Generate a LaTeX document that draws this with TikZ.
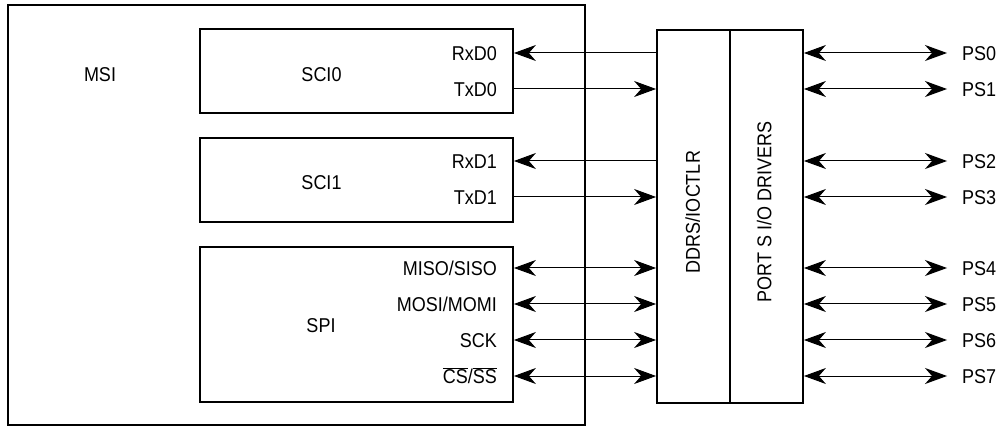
\documentclass[tikz,border=0pt]{standalone}
\usepackage{fontspec}
\setmainfont[FakeStretch=0.9]{Liberation Sans}
\usetikzlibrary{positioning,arrows.meta}
\newcommand{\ovbar}[1]{$\overline{\hbox{#1}}$}
\tikzset{
  >={Stealth[length=22pt,width=16pt,inset=7pt]},
  box/.style={draw=black, line width=1.8pt, inner sep=0pt},
  txt/.style={inner sep=0pt, text height=14.5pt, text depth=0pt, font=\fontsize{20}{24}\selectfont},
  sigl/.style={txt, anchor=east},
  pslbl/.style={txt, anchor=west},
  sig/.style={->, line width=1pt},
  bi/.style={<->, line width=1pt},
}
\begin{document}
\begin{tikzpicture}[x=1pt,y=-1pt]
  \useasboundingbox (0,0) rectangle (998,427);
  % blocks
  \node[box, minimum width=577pt, minimum height=420pt](msi) at (296.5,215){};
  \node[box, minimum width=313pt, minimum height=84pt](sci0) at (356.5,71){};
  \node[box, minimum width=313pt, minimum height=84pt](sci1) at (356.5,180){};
  \node[box, minimum width=313pt, minimum height=155pt](spi) at (356.5,324.5){};
  \node[box, minimum width=73pt, minimum height=373pt](ddrs) at (693.5,216.5){};
  \node[box, minimum width=73pt, minimum height=373pt](portdrv) at (766.5,216.5){};
  % block names
  \node[txt](msitxt) at (100,74){MSI};
  \node[txt](sci0txt) at (321.5,74){SCI0};
  \node[txt](sci1txt) at (321.5,182){SCI1};
  \node[txt](spitxt) at (321,325){SPI};
  \node[txt, rotate=90](ddrstxt) at (692.5,212){DDRS/IOCTLR};
  \node[txt, rotate=90](porttxt) at (764,212){PORT S I/O DRIVERS};
  % pin names
  \node[sigl](rxd0) at (497,53){RxD0};
  \node[sigl](txd0) at (497,89){TxD0};
  \node[sigl](rxd1) at (497,161){RxD1};
  \node[sigl](txd1) at (497,197){TxD1};
  \node[sigl](miso) at (497,268){MISO/SISO};
  \node[sigl](mosi) at (497,304){MOSI/MOMI};
  \node[sigl](sck) at (497,340){SCK};
  \node[sigl](cs) at (497,376){\ovbar{CS}/\ovbar{SS}};
  \node[pslbl](ps0) at (962,53){PS0};
  \node[pslbl](ps1) at (962,89){PS1};
  \node[pslbl](ps2) at (962,161){PS2};
  \node[pslbl](ps3) at (962,197){PS3};
  \node[pslbl](ps4) at (962,268){PS4};
  \node[pslbl](ps5) at (962,304){PS5};
  \node[pslbl](ps6) at (962,340){PS6};
  \node[pslbl](ps7) at (962,376){PS7};
  % connections
  \draw[sig](ddrs.west |- rxd0)--(sci0.east |- rxd0);
  \draw[sig](sci0.east |- txd0)--(ddrs.west |- txd0);
  \draw[sig](ddrs.west |- rxd1)--(sci1.east |- rxd1);
  \draw[sig](sci1.east |- txd1)--(ddrs.west |- txd1);
  \draw[bi](spi.east |- miso)--(ddrs.west |- miso);
  \draw[bi](spi.east |- mosi)--(ddrs.west |- mosi);
  \draw[bi](spi.east |- sck)--(ddrs.west |- sck);
  \draw[bi](spi.east |- cs)--(ddrs.west |- cs);
  \draw[bi, shorten >=15pt](portdrv.east |- ps0)--(ps0.west);
  \draw[bi, shorten >=15pt](portdrv.east |- ps1)--(ps1.west);
  \draw[bi, shorten >=15pt](portdrv.east |- ps2)--(ps2.west);
  \draw[bi, shorten >=15pt](portdrv.east |- ps3)--(ps3.west);
  \draw[bi, shorten >=15pt](portdrv.east |- ps4)--(ps4.west);
  \draw[bi, shorten >=15pt](portdrv.east |- ps5)--(ps5.west);
  \draw[bi, shorten >=15pt](portdrv.east |- ps6)--(ps6.west);
  \draw[bi, shorten >=15pt](portdrv.east |- ps7)--(ps7.west);
\end{tikzpicture}
\end{document}
